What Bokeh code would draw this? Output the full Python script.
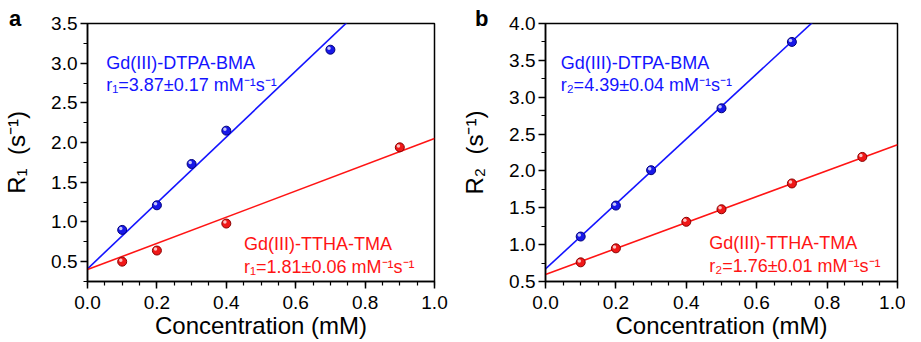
from bokeh.plotting import figure
from bokeh.layouts import row
from bokeh.models import Range1d, FixedTicker, Label, ColumnDataSource, Div
from bokeh.transform import dodge
from bokeh.embed import file_html
from bokeh.resources import INLINE

FONT = "Liberation Sans"
BLUE = "#1414ff"
RED = "#ff1414"

# ---------------- data ----------------
# panel a : R1
conc_blue_a = [0.1, 0.2, 0.3, 0.4, 0.7]
r1_blue = [0.90, 1.21, 1.73, 2.15, 3.17]
conc_red_a = [0.1, 0.2, 0.4, 0.9]
r1_red = [0.50, 0.64, 0.98, 1.94]
fit_x = [0.0, 1.0]
r1_blue_fit = [0.41, 4.56]
r1_red_fit = [0.40, 2.05]

# panel b : R2
conc_blue_b = [0.1, 0.2, 0.3, 0.5, 0.7]
r2_blue = [1.11, 1.53, 2.01, 2.85, 3.75]
conc_red_b = [0.1, 0.2, 0.4, 0.5, 0.7, 0.9]
r2_red = [0.76, 0.95, 1.31, 1.48, 1.83, 2.19]
r2_blue_fit = [0.67, 5.08]
r2_red_fit = [0.595, 2.356]

x_ticks = [0.0, 0.2, 0.4, 0.6, 0.8, 1.0]
x_tick_labels = ["0.0", "0.2", "0.4", "0.6", "0.8", "1.0"]
x_minor = [round(i * 0.05, 2) for i in range(21)]
y_ticks_a = [0.5, 1.0, 1.5, 2.0, 2.5, 3.0, 3.5]
y_tick_labels_a = ["0.5", "1.0", "1.5", "2.0", "2.5", "3.0", "3.5"]
y_minor_a = [round(0.25 + i * 0.25, 2) for i in range(14)]
y_ticks_b = [0.5, 1.0, 1.5, 2.0, 2.5, 3.0, 3.5, 4.0]
y_tick_labels_b = ["0.5", "1.0", "1.5", "2.0", "2.5", "3.0", "3.5", "4.0"]
y_minor_b = [round(0.5 + i * 0.25, 2) for i in range(15)]

blue_name = "Gd(III)-DTPA-BMA"
red_name = "Gd(III)-TTHA-TMA"
blue_rate_a = "r\u2081=3.87\u00b10.17 mM\u207b\u00b9s\u207b\u00b9"
red_rate_a = "r\u2081=1.81\u00b10.06 mM\u207b\u00b9s\u207b\u00b9"
blue_rate_b = "r\u2082=4.39\u00b10.04 mM\u207b\u00b9s\u207b\u00b9"
red_rate_b = "r\u2082=1.76\u00b10.01 mM\u207b\u00b9s\u207b\u00b9"
rate_text = {"a": (blue_rate_a, red_rate_a), "b": (blue_rate_b, red_rate_b)}


def make_panel(letter, ylabel, y_lo, y_hi, y_ticks, y_labels, y_minor,
               bx, by, rx_pts, ry_pts, bfit, rfit, text_pos, width, bl, br):
    p = figure(width=width, height=342, x_range=Range1d(0, 1.0),
               y_range=Range1d(y_lo, y_hi), output_backend="svg",
               toolbar_location=None, min_border_left=bl,
               min_border_right=br, min_border_top=23, min_border_bottom=61)
    p.grid.visible = False
    p.outline_line_color = "black"
    p.outline_line_width = 1.5
    p.outline_line_alpha = 1.0
    p.background_fill_color = "white"
    p.border_fill_color = "white"

    p.xaxis.ticker = FixedTicker(ticks=x_ticks, minor_ticks=x_minor)
    p.xaxis.major_label_overrides = dict(zip(x_ticks, x_tick_labels))
    p.yaxis.ticker = FixedTicker(ticks=y_ticks, minor_ticks=y_minor)
    p.yaxis.major_label_overrides = dict(zip(y_ticks, y_labels))
    p.xaxis.axis_label = "Concentration (mM)"
    p.yaxis.axis_label = ylabel
    for ax in (p.xaxis[0], p.yaxis[0]):
        ax.axis_line_width = 1.5
        ax.major_tick_line_width = 1.5
        ax.minor_tick_line_width = 1.2
        ax.major_tick_out = 7
        ax.major_tick_in = 0
        ax.minor_tick_out = 4
        ax.minor_tick_in = 0
        ax.major_label_text_font = FONT
        ax.major_label_text_font_size = "19px"
        ax.major_label_text_color = "black"
        ax.axis_label_text_font = FONT
        ax.axis_label_text_font_size = "24px"
        ax.axis_label_text_font_style = "normal"
        ax.axis_label_text_color = "black"
    p.xaxis.major_label_standoff = 7
    p.xaxis.axis_label_standoff = 0
    p.yaxis.major_label_standoff = 3
    p.yaxis.axis_label_standoff = 18

    # fit lines
    p.line(fit_x, bfit, line_color=BLUE, line_width=1.6)
    p.line(fit_x, rfit, line_color=RED, line_width=1.6)

    # data points: shaded balls
    for xs, ys, fc, lc in ((bx, by, "#1818e8", "#00007a"),
                           (rx_pts, ry_pts, "#f01818", "#8a0000")):
        src = ColumnDataSource(dict(x=xs, y=ys))
        p.scatter("x", "y", source=src, size=9, fill_color=fc,
                  line_color=lc, line_width=1)
        p.scatter(dodge("x", -0.004, range=p.x_range),
                  dodge("y", 0.018 * (y_hi - y_lo) / 3.25, range=p.y_range),
                  source=src, size=3.5, fill_color="white", fill_alpha=0.75,
                  line_color=None)

    (btx, bty1, bty2), (rtx, rty1, rty2) = text_pos
    for x, y, t, c in ((btx, bty1, blue_name, BLUE), (btx, bty2, rate_text[letter][0], BLUE),
                       (rtx, rty1, red_name, RED), (rtx, rty2, rate_text[letter][1], RED)):
        p.add_layout(Label(x=x, y=y, text=t, text_color=c, text_font=FONT,
                           text_font_size="18px", text_baseline="alphabetic",
                           text_align="left"))
    return p


pa = make_panel("a", "R\u2081\u00a0 (s\u207b\u00b9)", 0.25, 3.5, y_ticks_a, y_tick_labels_a,
                y_minor_a, conc_blue_a, r1_blue, conc_red_a, r1_red,
                r1_blue_fit, r1_red_fit,
                ((0.054, 3.006, 2.73), (0.451, 0.722, 0.437)), 452, 81, 18)
pb = make_panel("b", "R\u2082\u00a0 (s\u207b\u00b9)", 0.5, 4.0, y_ticks_b, y_tick_labels_b,
                y_minor_b, conc_blue_b, r2_blue, conc_red_b, r2_red,
                r2_blue_fit, r2_red_fit,
                ((0.043, 3.47, 3.17), (0.465, 1.019, 0.717)), 453, 93, 8)


def letter_div(letter, left):
    return Div(text=letter, width=20, height=26,
               styles={"position": "absolute", "left": left, "top": "-2px",
                       "font-family": FONT, "font-size": "22px",
                       "font-weight": "bold", "color": "black"})


layout = row(pa, pb, letter_div("a", "4px"), letter_div("b", "470px"))
open("out.html", "w").write(file_html(layout, INLINE))
